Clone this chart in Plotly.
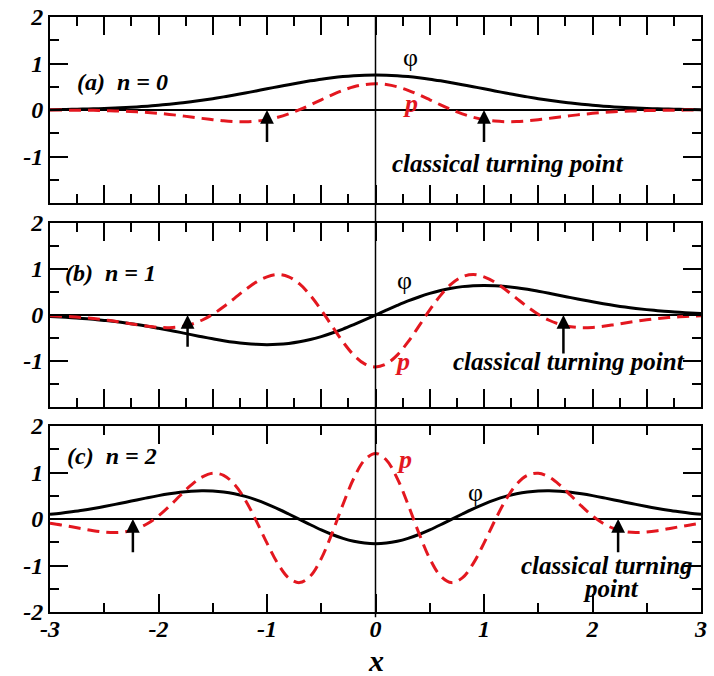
import plotly.graph_objects as go

# ---------------- data ----------------
x_vals = [-3.0, -2.9, -2.8, -2.7, -2.6, -2.5, -2.4, -2.3, -2.2, -2.1,
          -2.0, -1.9, -1.8, -1.7, -1.6, -1.5, -1.4, -1.3, -1.2, -1.1,
          -1.0, -0.9, -0.8, -0.7, -0.6, -0.5, -0.4, -0.3, -0.2, -0.1,
          0.0, 0.1, 0.2, 0.3, 0.4, 0.5, 0.6, 0.7, 0.8, 0.9,
          1.0, 1.1, 1.2, 1.3, 1.4, 1.5, 1.6, 1.7, 1.8, 1.9,
          2.0, 2.1, 2.2, 2.3, 2.4, 2.5, 2.6, 2.7, 2.8, 2.9, 3.0]

# panel (a) n = 0
phi_n0 = [0.008, 0.011, 0.015, 0.020, 0.026, 0.033, 0.042, 0.053, 0.067, 0.083,
          0.102, 0.124, 0.149, 0.177, 0.209, 0.244, 0.282, 0.323, 0.366, 0.410,
          0.456, 0.501, 0.545, 0.588, 0.627, 0.663, 0.693, 0.718, 0.736, 0.747,
          0.751, 0.747, 0.736, 0.718, 0.693, 0.663, 0.627, 0.588, 0.545, 0.501,
          0.456, 0.410, 0.366, 0.323, 0.282, 0.244, 0.209, 0.177, 0.149, 0.124,
          0.102, 0.083, 0.067, 0.053, 0.042, 0.033, 0.026, 0.020, 0.015, 0.011, 0.008]
p_n0 = [-0.001, -0.002, -0.003, -0.005, -0.008, -0.013, -0.019, -0.027, -0.039, -0.054,
        -0.072, -0.095, -0.121, -0.150, -0.180, -0.208, -0.232, -0.248, -0.251, -0.239,
        -0.208, -0.156, -0.083, 0.007, 0.110, 0.220, 0.327, 0.423, 0.499, 0.547,
        0.564, 0.547, 0.499, 0.423, 0.327, 0.220, 0.110, 0.007, -0.083, -0.156,
        -0.208, -0.239, -0.251, -0.248, -0.232, -0.208, -0.180, -0.150, -0.121, -0.095,
        -0.072, -0.054, -0.039, -0.027, -0.019, -0.013, -0.008, -0.005, -0.003, -0.002, -0.001]

# panel (b) n = 1
phi_n1 = [-0.035, -0.046, -0.059, -0.075, -0.094, -0.117, -0.143, -0.173, -0.208, -0.246,
          -0.288, -0.332, -0.378, -0.426, -0.473, -0.517, -0.558, -0.593, -0.620, -0.638,
          -0.644, -0.638, -0.617, -0.582, -0.532, -0.469, -0.392, -0.305, -0.208, -0.106,
          0.000, 0.106, 0.208, 0.305, 0.392, 0.469, 0.532, 0.582, 0.617, 0.638,
          0.644, 0.638, 0.620, 0.593, 0.558, 0.517, 0.473, 0.426, 0.378, 0.332,
          0.288, 0.246, 0.208, 0.173, 0.143, 0.117, 0.094, 0.075, 0.059, 0.046, 0.035]
p_n1 = [-0.016, -0.025, -0.038, -0.055, -0.077, -0.104, -0.137, -0.174, -0.211, -0.245,
        -0.269, -0.275, -0.256, -0.204, -0.114, 0.015, 0.178, 0.362, 0.549, 0.714,
        0.830, 0.880, 0.830, 0.675, 0.426, 0.110, -0.242, -0.584, -0.871, -1.062,
        -1.128, -1.062, -0.871, -0.584, -0.242, 0.110, 0.426, 0.675, 0.830, 0.880,
        0.830, 0.714, 0.549, 0.362, 0.178, 0.015, -0.114, -0.204, -0.256, -0.275,
        -0.269, -0.245, -0.211, -0.174, -0.137, -0.104, -0.077, -0.055, -0.038, -0.025, -0.016]

# panel (c) n = 2
phi_n2 = [0.100, 0.125, 0.155, 0.188, 0.226, 0.268, 0.314, 0.361, 0.410, 0.458,
          0.503, 0.543, 0.576, 0.598, 0.608, 0.603, 0.582, 0.543, 0.486, 0.412,
          0.322, 0.220, 0.108, -0.008, -0.124, -0.234, -0.333, -0.416, -0.479, -0.518,
          -0.531, -0.518, -0.479, -0.416, -0.333, -0.234, -0.124, -0.008, 0.108, 0.220,
          0.322, 0.412, 0.486, 0.543, 0.582, 0.603, 0.608, 0.598, 0.576, 0.543,
          0.503, 0.458, 0.410, 0.361, 0.314, 0.268, 0.226, 0.188, 0.155, 0.125, 0.100]
p_n2 = [-0.093, -0.127, -0.167, -0.210, -0.251, -0.281, -0.292, -0.272, -0.209, -0.097,
        0.067, 0.275, 0.505, 0.728, 0.902, 0.985, 0.939, 0.745, 0.408, -0.035,
        -0.519, -0.959, -1.267, -1.368, -1.226, -0.851, -0.304, 0.312, 0.875, 1.269,
        1.410, 1.269, 0.875, 0.312, -0.304, -0.851, -1.226, -1.368, -1.267, -0.959,
        -0.519, -0.035, 0.408, 0.745, 0.939, 0.985, 0.902, 0.728, 0.505, 0.275,
        0.067, -0.097, -0.209, -0.272, -0.292, -0.281, -0.251, -0.210, -0.167, -0.127, -0.093]

turning_points = [1.0, 1.732, 2.236]
panel_labels = ["(a)&nbsp;&nbsp;n = 0", "(b)&nbsp;&nbsp;n = 1", "(c)&nbsp;&nbsp;n = 2"]
x_ticks = [-3, -2, -1, 0, 1, 2, 3]
x_ticktext = ["-3", "-2", "-1", "0", "1", "2", "3"]

# ---------------- styling ----------------
RED = "#e3171f"
FONT = "Liberation Serif"
tickfont = dict(family=FONT, size=24, color="black", weight="bold", style="italic")

fig = go.Figure()
panels = [("x", "y", phi_n0, p_n0), ("x2", "y2", phi_n1, p_n1), ("x3", "y3", phi_n2, p_n2)]
for xa, ya, phi, p in panels:
    fig.add_trace(go.Scatter(x=x_vals, y=phi, xaxis=xa, yaxis=ya, mode="lines",
                             line=dict(color="black", width=3, shape="spline"),
                             showlegend=False, hoverinfo="skip"))
    fig.add_trace(go.Scatter(x=x_vals, y=p, xaxis=xa, yaxis=ya, mode="lines",
                             line=dict(color=RED, width=3, dash="12px,7px", shape="spline"),
                             showlegend=False, hoverinfo="skip"))

def yax(domain, show_m2):
    return dict(domain=domain, range=[-2, 2], tickvals=[-2, -1, 0, 1, 2],
                ticktext=["-2" if show_m2 else "", "-1", "0", "1", "2"],
                automargin=False,
                showline=True, linecolor="black", linewidth=2, mirror="allticks",
                ticks="inside", ticklen=18, tickwidth=2, tickcolor="black",
                showgrid=False, zeroline=True, zerolinecolor="black", zerolinewidth=1.5,
                tickfont=tickfont,
                minor=dict(dtick=0.5, tick0=0, ticks="inside", ticklen=9, tickwidth=2,
                           tickcolor="black", showgrid=False))

def xax(anchor, major, minor, labels):
    return dict(anchor=anchor, domain=[0, 1], range=[-3, 3], dtick=major, tick0=0,
                automargin=False,
                showline=True, linecolor="black", linewidth=2, mirror="allticks",
                ticks="inside", ticklen=18, tickwidth=2, tickcolor="black",
                showgrid=False, zeroline=False, showticklabels=labels, tickfont=tickfont,
                minor=dict(dtick=minor, tick0=0, ticks="inside", ticklen=9, tickwidth=2,
                           tickcolor="black", showgrid=False))

x3 = xax("y3", 1, 0.5, True)
x3.update(tickmode="array", tickvals=x_ticks, ticktext=x_ticktext, ticklabelstandoff=-6)

fig.update_layout(
    width=714, height=676,
    margin=dict(l=50, r=13, t=17, b=64),
    paper_bgcolor="white", plot_bgcolor="white",
    xaxis=xax("y", 0.5, 0.25, False),
    xaxis2=xax("y2", 0.5, 0.25, False),
    xaxis3=x3,
    yaxis=yax([0.6874, 1.0], False),
    yaxis2=yax([0.3445, 0.6538], False),
    yaxis3=yax([0.0, 0.3126], True),
)

# vertical x = 0 line through all panels
fig.add_shape(type="line", xref="x3", yref="paper", x0=0, x1=0, y0=-0.009, y1=1.0,
              line=dict(color="black", width=1.5))

ann = []
axes = [("x", "y"), ("x2", "y2"), ("x3", "y3")]
tails = [(-0.72, -0.72), (-0.72, -0.87), (-0.75, -0.75)]
for i, (xr, yr) in enumerate(axes):
    tp = turning_points[i]
    for sgn, tail in zip((-1, 1), tails[i]):
        ann.append(dict(x=sgn * tp, y=0.0, ax=sgn * tp, ay=tail, xref=xr, yref=yr,
                        axref=xr, ayref=yr, text="", showarrow=True, arrowhead=2,
                        arrowsize=1.1, arrowwidth=2.5, arrowcolor="black",
                        standoff=0, startstandoff=0))

label_pos = [(-2.77, 0.6), (-2.88, 0.91), (-2.86, 1.36)]
for i, (xr, yr) in enumerate(axes):
    ann.append(dict(x=label_pos[i][0], y=label_pos[i][1], xref=xr, yref=yr,
                    text="<b><i>" + panel_labels[i] + "</i></b>", showarrow=False,
                    xanchor="left", yanchor="middle",
                    font=dict(family=FONT, size=24, color="black")))

ctp_font = dict(family=FONT, size=25, color="black")
ann.append(dict(x=1.22, y=-1.14, xref="x", yref="y", text="<b><i>classical turning point</i></b>",
                showarrow=False, font=ctp_font))
ann.append(dict(x=1.78, y=-1.02, xref="x2", yref="y2", text="<b><i>classical turning point</i></b>",
                showarrow=False, font=ctp_font))
ann.append(dict(x=2.13, y=-0.99, xref="x3", yref="y3", text="<b><i>classical turning</i></b>",
                showarrow=False, font=ctp_font))
ann.append(dict(x=2.17, y=-1.5, xref="x3", yref="y3", text="<b><i>point</i></b>",
                showarrow=False, font=ctp_font))

phi_pos = [(0.32, 1.12), (0.27, 0.76), (0.92, 0.56)]
p_pos = [(0.32, 0.15), (0.25, -1.0), (0.27, 1.28)]
for i, (xr, yr) in enumerate(axes):
    ann.append(dict(x=phi_pos[i][0], y=phi_pos[i][1], xref=xr, yref=yr, text="φ",
                    showarrow=False, font=dict(family=FONT, size=26, color="black")))
    ann.append(dict(x=p_pos[i][0], y=p_pos[i][1], xref=xr, yref=yr, text="<b><i>p</i></b>",
                    showarrow=False, font=dict(family=FONT, size=26, color=RED)))

# x-axis title
ann.append(dict(x=0, y=-0.082, xref="x3", yref="paper", text="<b><i>x</i></b>",
                showarrow=False, yanchor="middle",
                font=dict(family=FONT, size=30, color="black")))

fig.update_layout(annotations=ann)
fig.write_html("out.html", config={"displayModeBar": False},
               post_script="document.body.style.margin='0px';document.body.style.overflow='hidden';")
